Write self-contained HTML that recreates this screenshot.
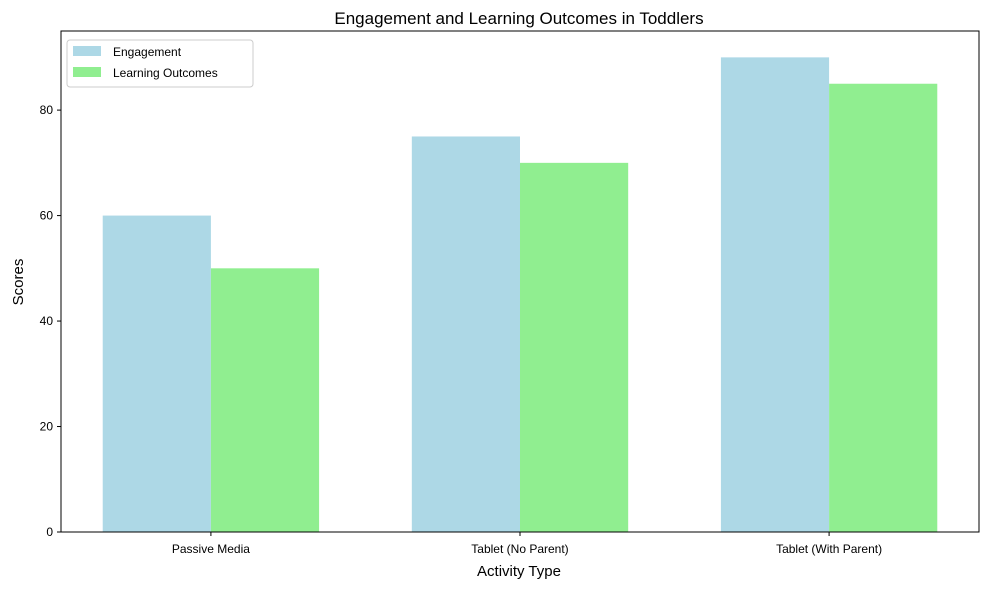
<!DOCTYPE html>
<html><head><meta charset="utf-8"><style>
body{margin:0;background:#fff;font-family:"Liberation Sans","DejaVu Sans",sans-serif;}
</style></head><body>
<svg id="chart" width="989" height="590" xmlns="http://www.w3.org/2000/svg"></svg>
<script>
const categories=["Passive Media","Tablet (No Parent)","Tablet (With Parent)"];
const engagement=[60,75,90];
const learning=[50,70,85];
const yTicks=[0,20,40,60,80];
const L=61,R=979,T=31,B=532,ymax=95,xmin=-0.485,xmax=2.485,bw=0.35;
const xs=v=>L+(v-xmin)/(xmax-xmin)*(R-L);
const ys=v=>B-v/ymax*(B-T);
const svg=document.getElementById('chart');
const NS='http://www.w3.org/2000/svg';
function mk(tag,attrs,txt){const e=document.createElementNS(NS,tag);for(const k in attrs)e.setAttribute(k,attrs[k]);if(txt!==undefined)e.textContent=txt;svg.appendChild(e);return e;}
categories.forEach((c,i)=>{
 let b=mk('rect',{x:xs(i-bw),y:ys(engagement[i]),width:xs(i)-xs(i-bw),height:B-ys(engagement[i]),fill:'#add8e6'});
 
 
 let g=mk('rect',{x:xs(i),y:ys(learning[i]),width:xs(i+bw)-xs(i),height:B-ys(learning[i]),fill:'#90ee90'});
 
 
 mk('line',{x1:xs(i),x2:xs(i),y1:B,y2:B+4,stroke:'#000'});
 let t=mk('text',{x:xs(i),y:B+21,'text-anchor':'middle','font-size':12},c);
 
 
});
yTicks.forEach(v=>{
 mk('line',{x1:L-4,x2:L,y1:ys(v),y2:ys(v),stroke:'#000'});
 let t=mk('text',{x:L-8,y:ys(v)+4,'text-anchor':'end','font-size':12},v);
 
 
});
let f=mk('rect',{x:L,y:T,width:R-L,height:B-T,fill:'none',stroke:'#000','stroke-width':1});


</script>
<svg width="989" height="590" style="position:absolute;left:0;top:0" xmlns="http://www.w3.org/2000/svg">
<text x="519" y="24" text-anchor="middle" font-size="17">Engagement and Learning Outcomes in Toddlers</text>
<text x="519" y="576" text-anchor="middle" font-size="15">Activity Type</text>
<text x="23" y="282" text-anchor="middle" font-size="15" transform="rotate(-90 23 282)">Scores</text>
<g>
<rect x="67" y="40" width="186" height="47" fill="#fff" stroke="#ccc" rx="3"/>
<rect x="73" y="46" width="28" height="10" fill="#add8e6"/>
<text x="113" y="56" font-size="12">Engagement</text>
<rect x="73" y="67" width="28" height="10" fill="#90ee90"/>
<text x="113" y="77" font-size="12">Learning Outcomes</text>
</g>
</svg>
</body></html>
